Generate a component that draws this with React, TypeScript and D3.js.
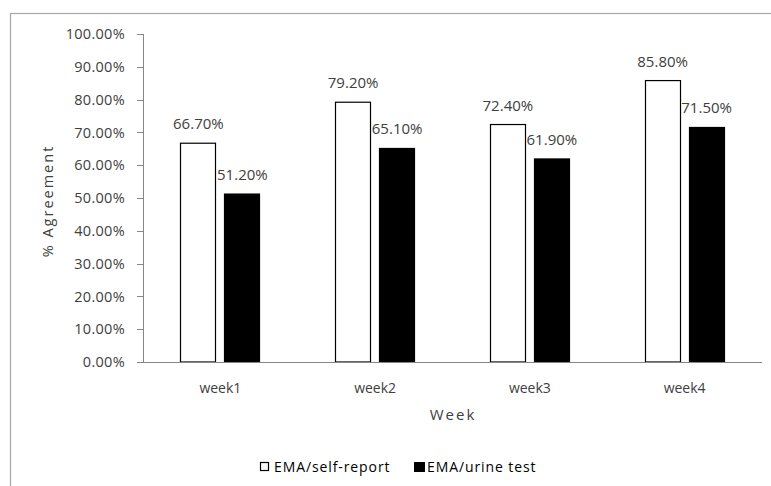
import React from "react";
import * as d3 from "d3";

const categories = ["week1", "week2", "week3", "week4"];
const selfReport = [66.7, 79.2, 72.4, 85.8];
const urineTest = [51.2, 65.1, 61.9, 71.5];
const seriesNames = ["EMA/self-report", "EMA/urine test"];
const yTicks = [0, 10, 20, 30, 40, 50, 60, 70, 80, 90, 100];

const W = 771;
const H = 486;
const font = "'Open Sans', 'Noto Sans', sans-serif";
const textColor = "#404040";

export default function App() {
  const x0 = d3.scaleBand<string>().domain(categories).range([143, 762]);
  const y = d3.scaleLinear().domain([0, 100]).range([362, 34]);
  const barW = 36;
  const gap = 8;
  const series = [
    { name: seriesNames[0], values: selfReport, fill: "#ffffff" },
    { name: seriesNames[1], values: urineTest, fill: "#000000" },
  ];
  return (
    <svg
      width={W}
      height={H}
      style={{ position: "absolute", left: 0, top: 0, background: "#fff" }}
    >
      <rect x={10.5} y={13.5} width={800} height={600} fill="none" stroke="#a6a6a6" strokeWidth={1.2} />
      {/* y axis */}
      <line x1={143.5} x2={143.5} y1={y(100)} y2={y(0)} stroke="#868686" />
      {yTicks.map((t) => (
        <g key={t}>
          <line x1={137} x2={143.5} y1={Math.round(y(t)) + 0.5} y2={Math.round(y(t)) + 0.5} stroke="#868686" />
          <text x={125} y={y(t)} dy="0.36em" textAnchor="end" fontFamily={font} fontSize={14.5} letterSpacing={0.3} fill={textColor}>
            {t.toFixed(2)}%
          </text>
        </g>
      ))}
      {/* bars */}
      {categories.map((c, i) => {
        const cx = (x0(c) as number) + x0.bandwidth() / 2;
        return (
          <g key={c}>
            {series.map((s, j) => {
              const bx = j === 0 ? cx - gap / 2 - barW : cx + gap / 2;
              const v = s.values[i];
              return (
                <g key={s.name}>
                  <rect
                    x={Math.round(bx) + 0.5}
                    y={y(v)}
                    width={barW - 1}
                    height={y(0) - y(v)}
                    fill={s.fill}
                    stroke="#000"
                    strokeWidth={1.2}
                  />
                  <text
                    x={bx + barW / 2}
                    y={y(v) - 14}
                    textAnchor="middle"
                    fontFamily={font}
                    fontSize={15}
                    fill={textColor}
                  >
                    {v.toFixed(2)}%
                  </text>
                </g>
              );
            })}
            <text x={cx} y={393} textAnchor="middle" fontFamily={font} fontSize={14} fill={textColor}>
              {c}
            </text>
          </g>
        );
      })}
      {/* x axis */}
      <line x1={143} x2={762} y1={362.5} y2={362.5} stroke="#868686" />
      {/* axis titles */}
      <text x={453} y={420} textAnchor="middle" fontFamily={font} fontSize={15} letterSpacing={2} fill={textColor}>
        Week
      </text>
      <text
        transform={`translate(53, 201) rotate(-90)`}
        textAnchor="middle"
        fontFamily={font}
        fontSize={14.5}
        letterSpacing={2}
        fill={textColor}
      >
        % Agreement
      </text>
      {/* legend */}
      <rect x={260.5} y={462.5} width={8} height={8} fill="#fff" stroke="#000" strokeWidth={1.2} />
      <text x={274} y={471.5} fontFamily={font} fontSize={14} letterSpacing={0.9} fill="#000">
        {seriesNames[0]}
      </text>
      <rect x={414} y={462} width={11} height={10} fill="#000" />
      <text x={427} y={471.5} fontFamily={font} fontSize={14} letterSpacing={0.9} fill="#000">
        {seriesNames[1]}
      </text>
    </svg>
  );
}
